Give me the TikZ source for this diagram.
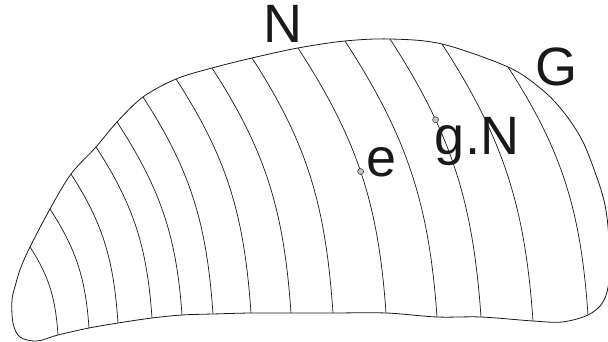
\documentclass[tikz,border=0pt]{standalone}
\usepackage{fontspec}
\setmainfont{Liberation Sans}
\usepackage{tikz}
\usetikzlibrary{positioning}

\begin{document}
\begin{tikzpicture}[
  x=1pt, y=1pt,
  border/.style={draw=black!90, line width=0.8pt},
  coset/.style={draw=black!90, line width=0.7pt},
  lbl/.style={font=\fontsize{54}{54}\selectfont, inner sep=0pt, anchor=base, text=black!90},
  dot/.style={circle, draw=black!75, fill=gray!45, line width=0.6pt, minimum size=6pt, inner sep=0pt},
]
  \useasboundingbox (0,0) rectangle (608,342);

  % Ends of the cosets on the border
  \foreach \i/\tx/\ty/\bx/\by in {1/30/95/58/7, 2/50/133/89/14, 3/71/168/118/19,
      4/96/195/152/24, 5/117/220/182/27, 6/143/245/213/28, 7/176/263/251/29,
      8/212/274/291/29, 9/252/284/333/29, 10/298/294/386/29, 11/345/301/437/25,
      12/390/303/481/25, 13/442/298/533/21, 14/508/275/588/27}
  {
    \coordinate (t\i) at (\tx,\ty);
    \coordinate (b\i) at (\bx,\by);
  }

  % Group G
  \draw[border] plot[smooth cycle, tension=0.55] coordinates {
    (37,1) (20,5) (13,19) (12,42) (16,59) (21,75)
    (t1) (t2) (t3) (t4) (t5) (t6) (t7) (t8) (t9) (t10) (t11) (t12) (t13) (t14)
    (540,254) (562,232) (582,202) (596,167) (605,137) (609,102) (609,62) (603,40)
    (b14) (562,20) (b13) (b12) (b11) (b10) (b9) (b8) (b7) (b6) (b5) (b4) (b3) (b2) (b1)};

  % Cosets
  \foreach \i in {1,...,14}
    \draw[coset] (t\i) to[out=-57, in=94] (b\i);

  % Points
  \path (t10) to[out=-57, in=94] node[dot, pos=0.49] (e) {} (b10);
  \path (t12) to[out=-57, in=94] node[dot, pos=0.3] (gn) {} (b12);

  % Labels
  \node[lbl] (nlabel) at (283,299) {N};
  \node[lbl] (glabel) at (556,256) {G};
  \node[lbl] (elabel) at (382,165) {e};
  \node[lbl] (gnlabel) at (477,187) {g.N};
\end{tikzpicture}
\end{document}
